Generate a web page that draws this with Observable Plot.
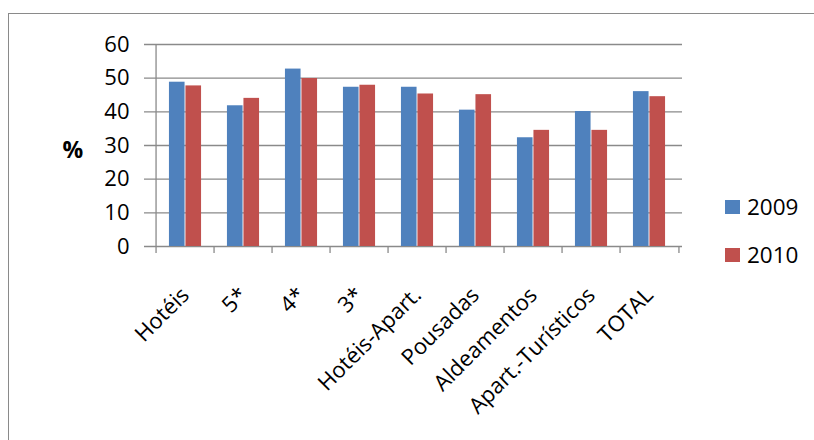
<!DOCTYPE html>
<html>
<head>
<meta charset="utf-8">
<script src="https://cdn.jsdelivr.net/npm/d3@7"></script>
<script src="https://cdn.jsdelivr.net/npm/@observablehq/plot@0.6"></script>
<style>
  body { margin: 0; background: #fff; }
  #wrap { position: relative; width: 814px; height: 440px; overflow: hidden; font-family: "Open Sans", sans-serif; }
  #border { position: absolute; left: 8px; top: 13px; width: 900px; height: 600px; border: 1px solid #8a8a8a; box-sizing: border-box; }
  #chart { position: absolute; left: 0; top: 0; }
  .leg { position: absolute; left: 725px; display: flex; align-items: center; font-size: 22.5px; color: #000; line-height: 1; }
  .sw { width: 15px; height: 14px; margin-right: 7px; }
</style>
</head>
<body>
<div id="wrap">
  <div id="border"></div>
  <div id="chart"></div>
</div>
<script>
const categories = ["Hotéis", "5*", "4*", "3*", "Hotéis-Apart.", "Pousadas", "Aldeamentos", "Apart.-Turísticos", "TOTAL"];
const series = ["2009", "2010"];
const values2009 = [48.8, 41.8, 52.7, 47.3, 47.3, 40.5, 32.3, 40.1, 46.0];
const values2010 = [47.7, 44.0, 49.9, 47.9, 45.3, 45.1, 34.5, 34.5, 44.5];
const yTicks = [0, 10, 20, 30, 40, 50, 60];
const colors = ["#4F81BD", "#C0504D"];
const yLabel = "%";

const W = 814, H = 440;
const mL = 152, mR = 132, mT = 44, mB = 194;
const step = (W - mL - mR) / categories.length;
const barW = 16.5;
const gap = (step - 2 * barW) / 2;
const grid = "#8a8a8a";

const rows2009 = categories.map((c, i) => ({category: c, value: values2009[i]}));
const rows2010 = categories.map((c, i) => ({category: c, value: values2010[i]}));

const chart = Plot.plot({
  width: W,
  height: H,
  marginLeft: mL,
  marginRight: mR,
  marginTop: mT,
  marginBottom: mB,
  style: {fontFamily: "'Open Sans', sans-serif", color: "#000", background: "transparent"},
  x: {domain: categories, padding: 0, axis: null},
  y: {domain: [0, 60], axis: null},
  marks: [
    Plot.gridY(yTicks, {stroke: grid, strokeOpacity: 1, strokeWidth: 1.3, insetLeft: -8}),
    Plot.ruleX([categories[0]], {x: d => d, dx: -step / 2, stroke: grid, strokeWidth: 1.3}),
    Plot.ruleX(categories, {x: d => d, dx: -step / 2, y1: 0, y2: 0, insetBottom: -7, stroke: grid, strokeWidth: 1.3}),
    Plot.ruleX([categories[categories.length - 1]], {x: d => d, dx: step / 2, y1: 0, y2: 0, insetBottom: -7, stroke: grid, strokeWidth: 1.3}),
    Plot.barY(rows2009, {x: "category", y: "value", fill: colors[0], insetLeft: gap, insetRight: gap + barW}),
    Plot.barY(rows2010, {x: "category", y: "value", fill: colors[1], insetLeft: gap + barW, insetRight: gap}),
    Plot.axisY(yTicks, {tickSize: 0, tickPadding: 23, fontSize: 22, label: null, fill: "#000"}),
    Plot.text(categories, {x: d => d, frameAnchor: "bottom", dy: 45, rotate: -45, textAnchor: "end", lineAnchor: "middle", fontSize: 22, fill: "#000"}),
    Plot.text([yLabel], {frameAnchor: "left", dx: -90, dy: 5, fontSize: 23, fontWeight: "bold", fill: "#000"})
  ]
});
document.getElementById("chart").appendChild(chart);

const wrap = document.getElementById("wrap");
const legTops = [196, 244];
series.forEach((s, i) => {
  const d = document.createElement("div");
  d.className = "leg";
  d.style.top = legTops[i] + "px";
  d.innerHTML = `<div class="sw" style="background:${colors[i]}"></div><span>${s}</span>`;
  wrap.appendChild(d);
});
</script>
</body>
</html>
